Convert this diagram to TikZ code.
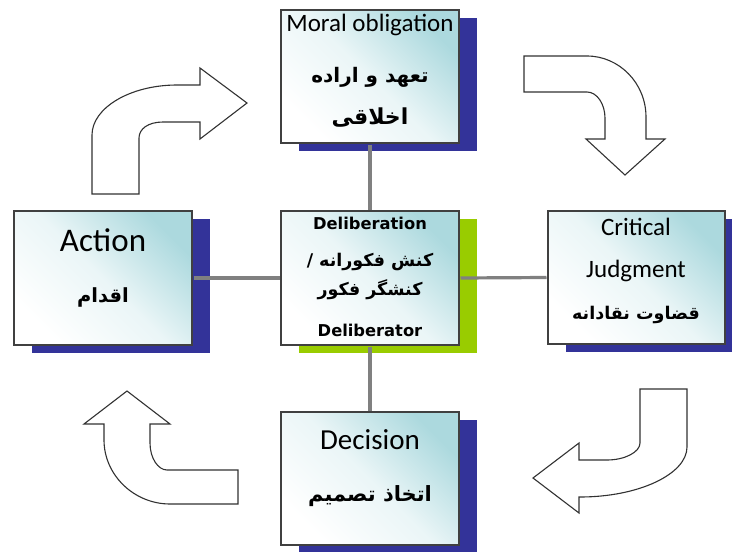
\documentclass[tikz,border=0pt]{standalone}
\usepackage{fontspec}
\usetikzlibrary{shadows}
\TeXXeTstate=1
\newfontfamily\latf{Carlito}
\newfontfamily\tahf{DejaVu Sans}
\newfontfamily\faf[Script=Arabic]{DejaVu Sans}
\definecolor{shblue}{RGB}{51,51,153}
\definecolor{shgreen}{RGB}{153,204,0}
\definecolor{boxcyan}{RGB}{172,217,222}
\definecolor{boxline}{RGB}{64,64,64}
\definecolor{conngray}{RGB}{128,128,128}
\definecolor{arrline}{RGB}{50,50,50}
\tikzset{
  boxbase/.style={rectangle, draw=boxline, line width=1.3pt, inner sep=0pt, outer sep=0pt,
    anchor=north west, minimum width=178pt, minimum height=133pt,
    top color=boxcyan, bottom color=white, middle color=boxcyan!25!white, shading angle=-45},
  bluebox/.style={boxbase, general shadow={fill=shblue, shadow xshift=18pt, shadow yshift=-8pt}},
  greenbox/.style={boxbase, general shadow={fill=shgreen, shadow xshift=18pt, shadow yshift=-8pt}},
  conn/.style={draw=conngray, line width=3.2pt},
  blockarrow/.style={draw=arrline, line width=1.1pt, fill=white, line join=miter},
  txt/.style={inner sep=0pt, anchor=center},
}
\newcommand{\lt}[1]{\latf\fontsize{#1}{#1}\selectfont}
\newcommand{\tb}[1]{\tahf\bfseries\fontsize{#1}{#1}\selectfont}
\newcommand{\fa}[1]{\faf\bfseries\fontsize{#1}{#1}\selectfont}
\begin{document}
\begin{tikzpicture}[x=1pt,y=-1pt]
\clip (0,0) rectangle (732,552);
\fill[white] (0,0) rectangle (732,552);
\node[bluebox] (top) at (281,10) {};
\node[greenbox, minimum height=134pt] (center) at (281,211) {};
\node[bluebox, minimum height=134pt] (action) at (14,211) {};
\node[bluebox, minimum width=177pt] (critical) at (548,211) {};
\node[bluebox] (decision) at (281,412) {};
\draw[conn] ([yshift=-1.5pt]top.south) -- ([yshift=1.5pt]center.north);
\draw[conn] ([yshift=-1.5pt]center.south) -- ([yshift=1.5pt]decision.north);
\draw[conn] ([xshift=1.5pt]action.east) -- ([xshift=-1.5pt]center.west);
\draw[conn] ([xshift=1.5pt]center.east) -- ([xshift=-1.5pt]critical.west);
% texts
\node[txt] (t1) at (370,25) {\lt{25}Moral obligation};
\node[txt] (t2) at (370,77) {\fa{20}\beginR تعهد و اراده\endR};
\node[txt] (t3) at (370,118) {\fa{22}\beginR اخلاقی\endR};
\node[txt] (c1) at (370,223) {\tb{16.3}Deliberation};
\node[txt] (c2) at (370,262) {\fa{17.5}\beginR کنش فکورانه /\endR};
\node[txt] (c3) at (370,290) {\fa{17.5}\beginR کنشگر فکور\endR};
\node[txt] (c4) at (370,330) {\tb{16.3}Deliberator};
\node[txt] (a1) at (103,240) {\lt{33}Action};
\node[txt] (a2) at (103,297) {\fa{19.5}\beginR اقدام\endR};
\node[txt] (k1) at (636,227) {\lt{25}Critical};
\node[txt] (k2) at (636,271) {\lt{25}Judgment};
\node[txt] (k3) at (636,315) {\fa{17.5}\beginR قضاوت نقادانه\endR};
\node[txt] (d1) at (370,440) {\lt{29}Decision};
\node[txt] (d2) at (370,496) {\fa{21}\beginR اتخاذ تصمیم\endR};
% block arrows
\draw[blockarrow] (92,194) -- (139,194) -- (139,138) .. controls (139,129) and (148,122) .. (163,122)
  -- (200,122) -- (200,139) -- (247,103) -- (200,68) -- (200,85) -- (177,85)
  .. controls (130,85) and (92,108) .. (92,135) -- cycle;
\draw[blockarrow] (524,56) -- (587,56) .. controls (619,56) and (646,83) .. (646,117)
  -- (646,139) -- (665,139) -- (625,175) -- (586,139) -- (605,139) -- (605,118)
  .. controls (605,104) and (597,92) .. (587,92) -- (524,92) -- cycle;
\draw[blockarrow] (640,389) -- (687,389) -- (687,447) .. controls (687,474) and (639,497) .. (580,497)
  -- (579,497) -- (579,513) -- (533,478) -- (579,443) -- (579,460) -- (607,460)
  .. controls (625,460) and (640,452) .. (640,443) -- cycle;
\draw[blockarrow] (127,391) -- (170,424) -- (150,424) -- (150,443) .. controls (150,458) and (158,470) .. (167,470)
  -- (238,470) -- (238,504) -- (170,504) .. controls (134,504) and (104,475) .. (104,440)
  -- (104,424) -- (84,424) -- cycle;
\end{tikzpicture}
\end{document}
